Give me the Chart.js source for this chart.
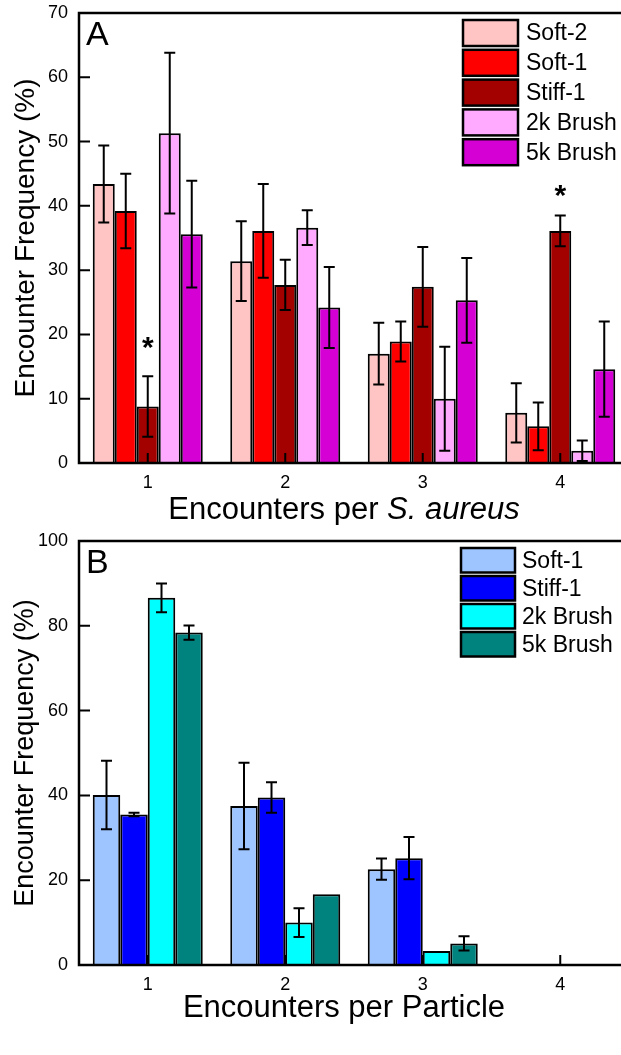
<!DOCTYPE html>
<html>
<head>
<meta charset="utf-8">
<title>Encounter frequency</title>
<script src="https://cdn.jsdelivr.net/npm/chart.js@4"></script>
<style>
  html, body { margin: 0; padding: 0; background: #fff; overflow: hidden; }
  #wrap { width: 621px; height: 1055px; overflow: hidden; position: relative; }
  canvas { display: block; }
</style>
</head>
<body>
<div id="wrap">
  <canvas id="chartA" width="640" height="525"></canvas>
  <canvas id="chartB" width="640" height="530"></canvas>
</div>
<script>
// encounters per cell / per particle, mean +- error
const categories = ['1', '2', '3', '4'];

// panel A: encounters per S. aureus
const soft2A   = [43.4, 31.4, 17.0, 7.8];
const soft2AErr = [6.0, 6.2, 4.8, 4.6];
const soft1A   = [39.2, 36.1, 18.9, 5.7];
const soft1AErr = [5.8, 7.3, 3.1, 3.7];
const stiff1A  = [8.8, 27.7, 27.4, 36.1];
const stiff1AErr = [4.7, 3.9, 6.2, 2.4];
const brush2kA = [51.3, 36.6, 10.0, 1.9];
const brush2kAErr = [12.5, 2.7, 8.1, 1.6];
const brush5kA = [35.6, 24.2, 25.3, 14.6];
const brush5kAErr = [8.3, 6.3, 6.6, 7.4];
// * marks on Stiff-1: category and the y value where the star sits
const starCatsA = ['1', '4'];
const starValsA = [18.5, 42.1];

// panel B: encounters per particle
const soft1B   = [40.1, 37.5, 22.6, null];
const soft1BErr = [8.1, 10.2, 2.5, null];
const stiff1B  = [35.5, 39.5, 25.2, null];
const stiff1BErr = [0.4, 3.6, 5.0, null];
const brush2kB = [86.6, 10.0, 3.3, null];
const brush2kBErr = [3.4, 3.4, 0, null];
const brush5kB = [78.4, 16.7, 5.1, null];
const brush5kBErr = [1.7, 0, 1.7, null];

const yTicksA = { max: 70, step: 10 };
const yTicksB = { max: 100, step: 20 };

const FONT = "'Liberation Sans', Arial, sans-serif";

function ds(label, data, errors, color) {
  return { label, data, errors, backgroundColor: color, borderColor: '#000', borderWidth: 2, borderSkipped: 'start' };
}

// draws frame, inward ticks, error bars, stars, legend, panel letter and axis titles
function makeDeco(cfg) {
  return {
    id: 'deco',
    afterDatasetsDraw(chart) {
      const ctx = chart.ctx;
      const area = chart.chartArea;
      const xs = chart.scales.x, ys = chart.scales.y;
      ctx.save();

      // error bars
      ctx.strokeStyle = '#000';
      ctx.lineWidth = 2;
      chart.data.datasets.forEach((d, i) => {
        const meta = chart.getDatasetMeta(i);
        d.data.forEach((v, j) => {
          const e = d.errors[j];
          if (v == null || !e) return;
          const x = meta.data[j].x;
          const yt = ys.getPixelForValue(v + e);
          const yb = ys.getPixelForValue(Math.max(v - e, 0));
          ctx.beginPath();
          ctx.moveTo(x, yt); ctx.lineTo(x, yb);
          ctx.moveTo(x - 5.5, yt); ctx.lineTo(x + 5.5, yt);
          ctx.moveTo(x - 5.5, yb); ctx.lineTo(x + 5.5, yb);
          ctx.stroke();
        });
      });

      // significance stars
      if (cfg.stars) {
        const i = chart.data.datasets.findIndex(d => d.label === cfg.stars.series);
        const meta = chart.getDatasetMeta(i);
        ctx.fillStyle = '#000';
        ctx.font = 'bold 30px ' + FONT;
        ctx.textAlign = 'center';
        ctx.textBaseline = 'alphabetic';
        cfg.stars.cats.forEach((c, k) => {
          const j = categories.indexOf(c);
          const y = ys.getPixelForValue(cfg.stars.vals[k]);
          ctx.fillText('*', meta.data[j].x, y + 12.5);
        });
      }

      // frame
      ctx.lineWidth = 2.5;
      ctx.strokeRect(area.left, area.top, area.right - area.left, area.bottom - area.top);

      // inward ticks
      ctx.lineWidth = 2;
      ctx.beginPath();
      ys.ticks.forEach(t => {
        const y = ys.getPixelForValue(t.value);
        ctx.moveTo(area.left, y); ctx.lineTo(area.left + 11, y);
      });
      xs.ticks.forEach((t, k) => {
        const x = xs.getPixelForTick(k);
        ctx.moveTo(x, area.bottom); ctx.lineTo(x, area.bottom - 10);
      });
      ctx.stroke();

      // legend
      const L = cfg.legend;
      ctx.font = L.font + 'px ' + FONT;
      ctx.textAlign = 'left';
      ctx.textBaseline = 'middle';
      chart.data.datasets.forEach((d, i) => {
        const y = L.y + i * L.pitch;
        ctx.fillStyle = d.backgroundColor;
        ctx.fillRect(L.x, y, L.w, L.h);
        ctx.lineWidth = 2.5;
        ctx.strokeStyle = '#000';
        ctx.strokeRect(L.x, y, L.w, L.h);
        ctx.fillStyle = '#000';
        ctx.fillText(d.label, L.tx, y + L.h / 2 + 1);
      });

      // panel letter
      ctx.font = '34px ' + FONT;
      ctx.textBaseline = 'alphabetic';
      ctx.fillText(cfg.letter, 86, cfg.letterY);

      // y title
      ctx.save();
      ctx.translate(25, (area.top + area.bottom) / 2);
      ctx.rotate(-Math.PI / 2);
      ctx.font = cfg.yTitleSize + 'px ' + FONT;
      ctx.textAlign = 'center';
      ctx.textBaseline = 'middle';
      ctx.fillText('Encounter Frequency (%)', 0, 1);
      ctx.restore();

      // x title, mixed upright / italic parts
      const parts = cfg.xTitle;
      let total = 0;
      parts.forEach(p => {
        ctx.font = (p.italic ? 'italic ' : '') + cfg.xTitleSize + 'px ' + FONT;
        p.w = ctx.measureText(p.text).width;
        total += p.w;
      });
      let x = 344 - total / 2;
      ctx.textAlign = 'left';
      parts.forEach(p => {
        ctx.font = (p.italic ? 'italic ' : '') + cfg.xTitleSize + 'px ' + FONT;
        ctx.fillText(p.text, x, cfg.xTitleY);
        x += p.w;
      });

      ctx.restore();
    }
  };
}

function makeChart(id, datasets, yt, cfg) {
  return new Chart(document.getElementById(id), {
    type: 'bar',
    data: { labels: categories, datasets },
    options: {
      responsive: false,
      animation: false,
      devicePixelRatio: 1,
      layout: { padding: { left: 0, right: 11, top: cfg.top, bottom: 0 } },
      datasets: { bar: { categoryPercentage: 0.8, barPercentage: 1 } },
      plugins: { legend: { display: false }, tooltip: { enabled: false } },
      scales: {
        x: {
          grid: { display: false, drawTicks: false },
          border: { display: false },
          ticks: { color: '#000', padding: 9, font: { family: FONT, size: 18 } },
          afterFit: s => { s.height = cfg.xAxisHeight; s.paddingLeft = 0; s.paddingRight = 0; }
        },
        y: {
          min: 0, max: yt.max,
          grid: { display: false, drawTicks: false },
          border: { display: false },
          ticks: { stepSize: yt.step, color: '#000', padding: 11, font: { family: FONT, size: 18 } },
          afterFit: s => { s.width = 79; s.paddingTop = 0; s.paddingBottom = 0; }
        }
      }
    },
    plugins: [makeDeco(cfg)]
  });
}

makeChart('chartA', [
  ds('Soft-2', soft2A, soft2AErr, '#FFC4C4'),
  ds('Soft-1', soft1A, soft1AErr, '#FF0000'),
  ds('Stiff-1', stiff1A, stiff1AErr, '#A30000'),
  ds('2k Brush', brush2kA, brush2kAErr, '#FFAAFF'),
  ds('5k Brush', brush5kA, brush5kAErr, '#D400D4')
], yTicksA, {
  top: 13, xAxisHeight: 62,
  letter: 'A', letterY: 45,
  yTitleSize: 28, xTitleSize: 31, xTitleY: 519,
  xTitle: [{ text: 'Encounters per ' }, { text: 'S. aureus', italic: true }],
  stars: { series: 'Stiff-1', cats: starCatsA, vals: starValsA },
  legend: { x: 463, y: 20, w: 55, h: 26, pitch: 29.8, tx: 526, font: 23 }
});

makeChart('chartB', [
  ds('Soft-1', soft1B, soft1BErr, '#9EC5FF'),
  ds('Stiff-1', stiff1B, stiff1BErr, '#0000FF'),
  ds('2k Brush', brush2kB, brush2kBErr, '#00FFFF'),
  ds('5k Brush', brush5kB, brush5kBErr, '#00827E')
], yTicksB, {
  top: 16, xAxisHeight: 90,
  letter: 'B', letterY: 48,
  yTitleSize: 27, xTitleSize: 31, xTitleY: 492,
  xTitle: [{ text: 'Encounters per Particle' }],
  legend: { x: 461, y: 23, w: 54, h: 24.5, pitch: 28, tx: 522, font: 23 }
});
</script>
</body>
</html>
